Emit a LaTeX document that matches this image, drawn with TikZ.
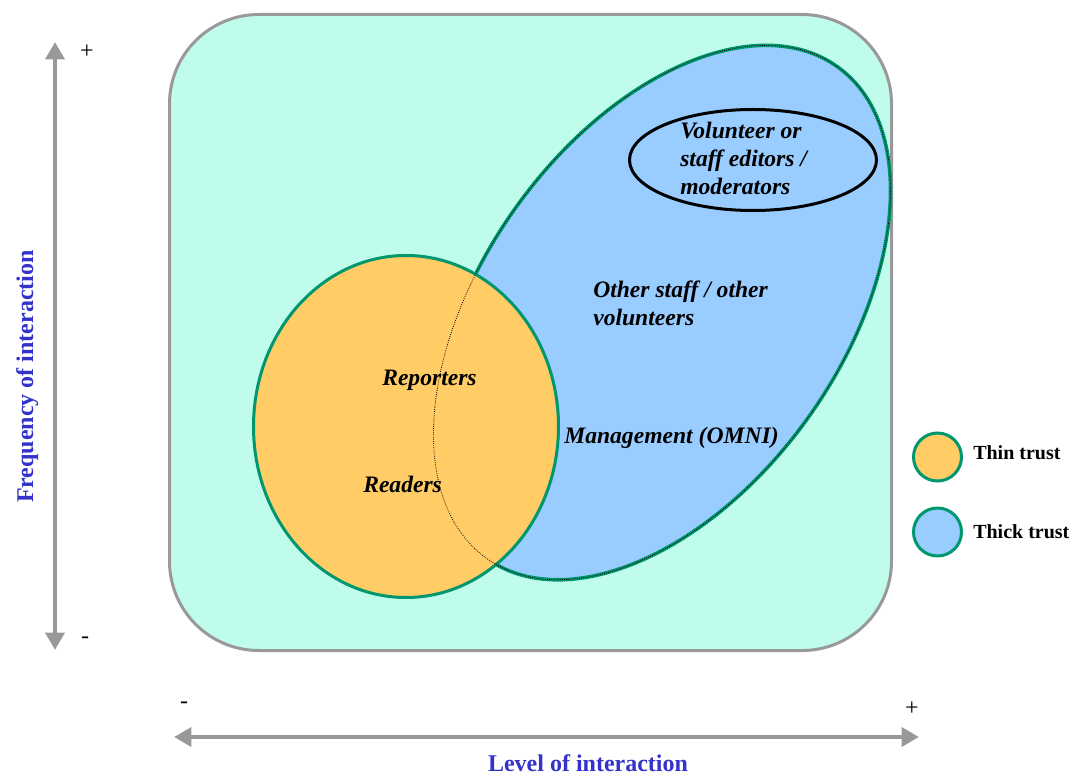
\documentclass[tikz,border=0pt]{standalone}
\usepackage{fontspec}
\setmainfont{Liberation Serif}
\usetikzlibrary{arrows.meta}
\definecolor{mint}{RGB}{192,252,236}
\definecolor{framegray}{RGB}{153,153,153}
\definecolor{trustgreen}{RGB}{0,150,110}
\definecolor{thinorange}{RGB}{255,204,102}
\definecolor{thickblue}{RGB}{153,204,255}
\definecolor{axisblue}{RGB}{51,51,204}

\begin{document}
\begin{tikzpicture}[x=0.75pt, y=0.75pt,
		trust/.style={draw=trustgreen, line width=2.25pt},
		thickshape/.style={rotate around={54.5:(thick)}},
		group/.style={font=\fontsize{17.7}{21}\selectfont\bfseries\itshape, inner sep=0pt, align=left},
		axis/.style={draw=framegray, line width=3.4pt, {Triangle[width=14pt,length=13pt]}-{Triangle[width=14pt,length=13pt]}},
		axislabel/.style={font=\fontsize{18}{21}\selectfont\bfseries, text=axisblue, inner sep=0pt},
		sign/.style={font=\fontsize{18}{20}\selectfont, inner sep=0pt},
		legend/.style={font=\fontsize{15}{18}\selectfont\bfseries, inner sep=0pt}]
			\useasboundingbox (0,0) rectangle (1075,776);
			\def \thickrx {302}
			\def \thickry {180}

			\draw[draw=framegray, fill=mint, line width=2.25pt, rounded corners=67pt] (169.5,761.5) rectangle (891.5,125.5);

			\coordinate (thick) at (662,463.5);
			\coordinate (thin) at (406,349.5);
			\coordinate (editors) at (753,616);
			\draw[trust, line width=2.7pt, fill=thickblue, thickshape] (thick) ellipse [x radius=\thickrx, y radius=\thickry];
			\draw[trust, fill=thinorange] (thin) ellipse [x radius=152.5, y radius=171];
			\draw[densely dotted, line width=0.6pt, thickshape] (thick) ellipse [x radius=\thickrx, y radius=\thickry];
			\draw[line width=2.25pt] (editors) ellipse [x radius=123.5, y radius=50.5];

			\node[group, anchor=north west] (volunteers) at (680,654.5) {Volunteer or\\staff editors /\\moderators};
			\node[group, anchor=north west] (staff) at (593,495) {Other staff / other\\volunteers};
			\node[group, anchor=base west] (reporters) at (382,390) {Reporters};
			\node[group, anchor=base west] (readers) at (363,284) {Readers};
			\node[group, anchor=base west] (management) at (564,333) {Management (OMNI)};

			\foreach \col/\txt/\y/\b in {thinorange/Thin trust/319/317, thickblue/Thick trust/244/238} {
				\draw[trust, fill=\col] (937.5,\y) circle (24);
				\node[legend, anchor=base west] (leg\y) at (973,\b) {\txt};
			}

			\coordinate (freqlow) at (55,126);
			\coordinate (freqhigh) at (55,734);
			\coordinate (levellow) at (174,39);
			\coordinate (levelhigh) at (919,39);
			\draw[axis] (freqlow) -- (freqhigh);
			\draw[axis] (levellow) -- (levelhigh);
			\node[sign] (freqplus) at (87,724) {+};
			\node[sign] (freqminus) at (85,136) {-};
			\node[sign] (levelminus) at (184,71) {-};
			\node[sign] (levelplus) at (912,67) {+};
			\node[axislabel, anchor=base] (freq) at (33,399.5) [rotate=90] {Frequency of interaction};
			\node[axislabel, anchor=base] (level) at (588,5) {Level of interaction};
		\end{tikzpicture}
\end{document}
